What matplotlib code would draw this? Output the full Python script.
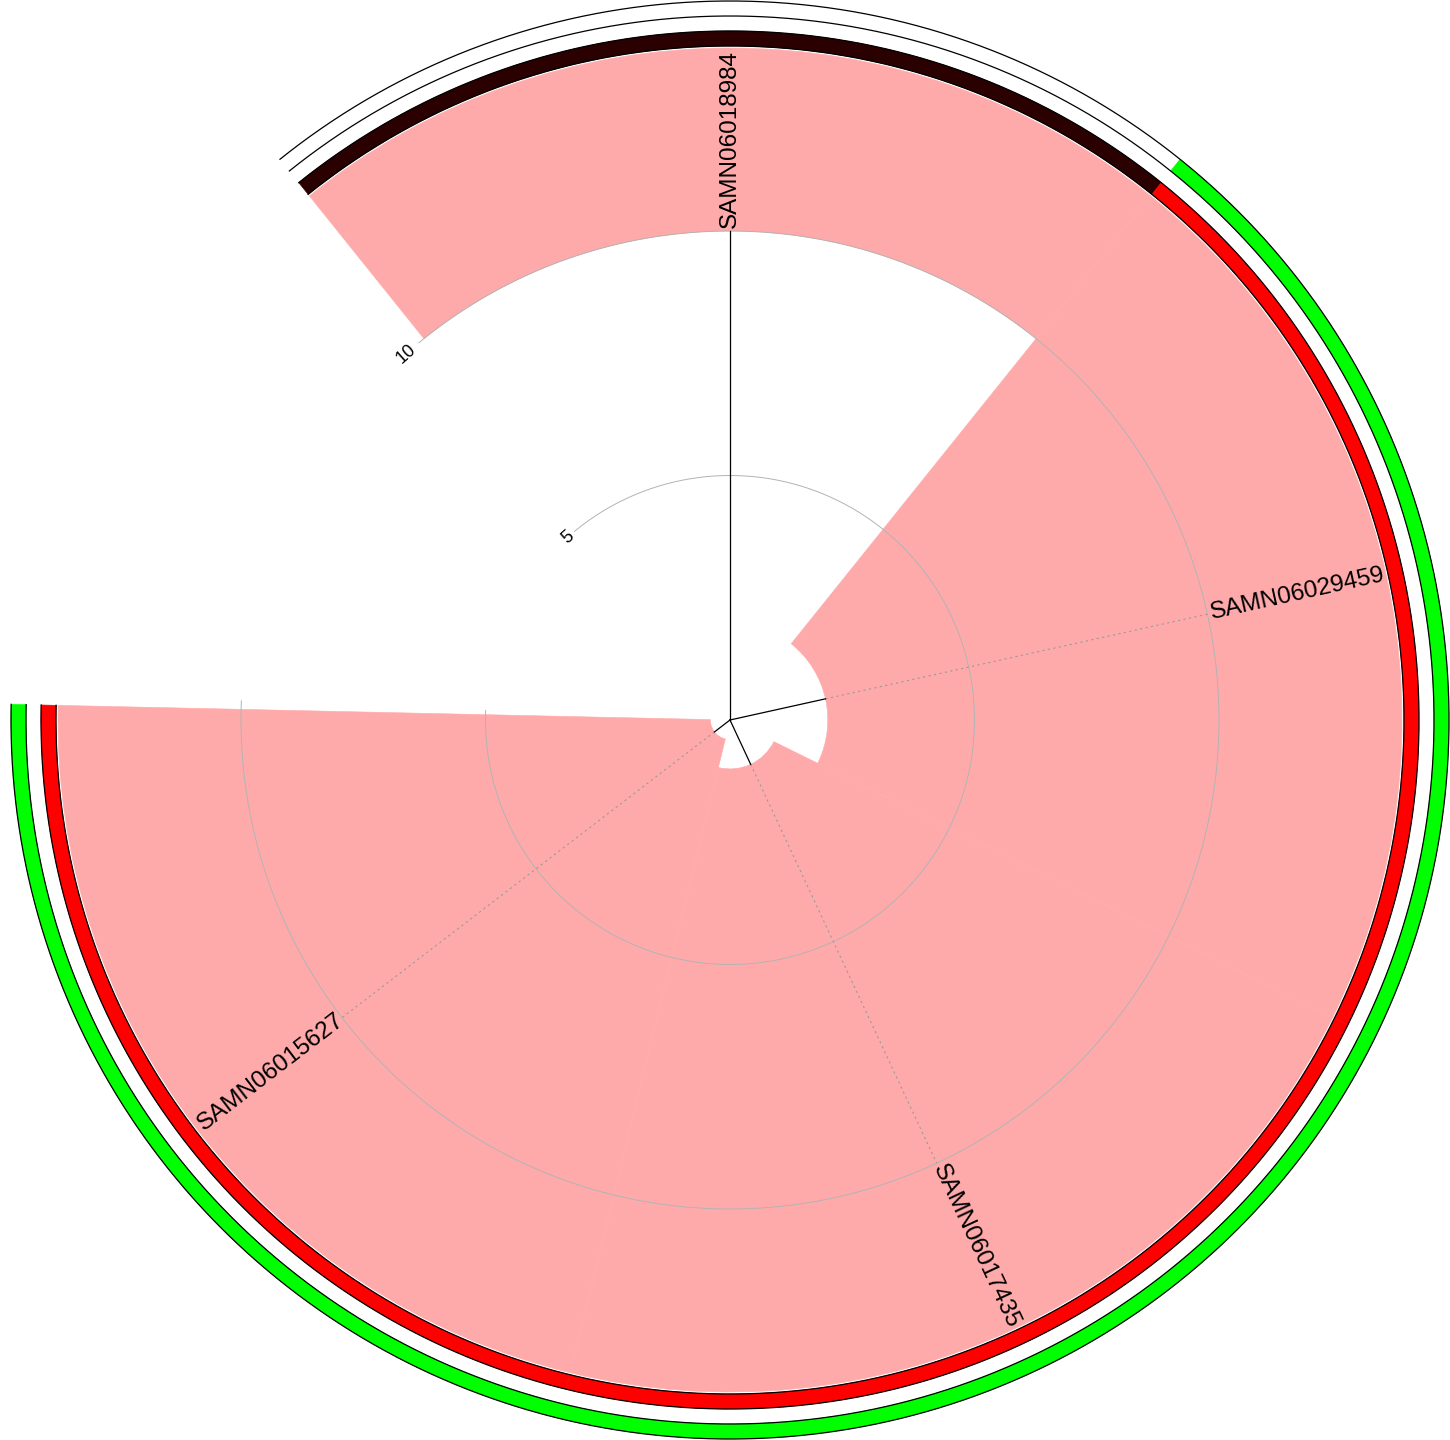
import numpy as np
import matplotlib.pyplot as plt

plt.rcParams['font.family'] = ['Liberation Sans', 'DejaVu Sans']

# -------------------------------
# tree data (star tree, 4 samples)
# -------------------------------
tips = ["SAMN06018984", "SAMN06029459", "SAMN06017435", "SAMN06015627"]
branch_len = [10.0, 2.0, 1.0, 0.4]

# annotation rings
ring_inner = ["dark", "red", "red", "red"]
ring_outer = ["none", "green", "green", "green"]
ring_colors = {"dark": "#2A0000", "red": "#FF0000", "green": "#00FF00", "none": "white"}

radial_ticks = [5, 10]

# -------------------------------
# layout
# -------------------------------
n = len(tips)
step = np.deg2rad(77.5)          # angle per tip (open angle ~50 deg)
theta = np.arange(n) * step
max_len = max(branch_len)

px_per_unit = 48.9
r_hilight = 672 / px_per_unit
r1 = (674 / px_per_unit, 689 / px_per_unit)
r2 = (704 / px_per_unit, 719 / px_per_unit)

fig = plt.figure(figsize=(14.5, 14.4), dpi=100)
ax = fig.add_axes([10 / 1450, 0, 1440 / 1450, 1], projection="polar")
ax.set_theta_zero_location("N")
ax.set_theta_direction(-1)
ax.set_ylim(0, 720 / px_per_unit)
ax.set_axis_off()

# highlight from each tip out to the rings
bl = np.array(branch_len)
ax.bar(theta, r_hilight - bl, width=step, bottom=bl, align="center",
       color="#FFAAAA", edgecolor="#FFAAAA", linewidth=0.4, zorder=1)

# grid circles + labels
th_grid = np.linspace(-np.deg2rad(39.5), (n - 0.5) * step + np.deg2rad(1), 500)
for r in radial_ticks:
    ax.plot(th_grid, np.full_like(th_grid, r), color="#B3B3B3", lw=0.7, zorder=2)
    ax.text(-np.deg2rad(41.5), r, str(r), rotation=41.5, ha="center",
            va="center", fontsize=13, color="black", zorder=5)

# heatmap rings
c1 = [ring_colors[v] for v in ring_inner]
c2 = [ring_colors[v] for v in ring_outer]
ax.bar(theta, r1[1] - r1[0], width=step, bottom=r1[0], color=c1,
       edgecolor=c1, linewidth=0.4, zorder=1)
ax.bar(theta, r2[1] - r2[0], width=step, bottom=r2[0], color=c2,
       edgecolor=c2, linewidth=0.4, zorder=1)
th_ring = np.linspace(-step / 2, (n - 0.5) * step, 600)
for r in (r1[0], r1[1], r2[0], r2[1]):
    ax.plot(th_ring, np.full_like(th_ring, r), color="black", lw=0.9,
            zorder=3, clip_on=False)

# branches, aligned dotted lines and tip labels
for t, L, name in zip(theta, branch_len, tips):
    ax.plot([t, t], [0, L], color="black", lw=0.9, zorder=4)
    if L < max_len:
        ax.plot([t, t], [L, max_len], color="#9A9A9A", lw=0.8,
                ls=(0, (2, 3)), zorder=3)
    ang = 90 - np.rad2deg(t)
    if ang < -90:
        ax.text(t, max_len, name, rotation=ang + 180, rotation_mode="anchor",
                ha="right", va="center", fontsize=17.5, zorder=5)
    else:
        ax.text(t, max_len + 0.06, name, rotation=ang, rotation_mode="anchor",
                ha="left", va="center", fontsize=17.5, zorder=5)

fig.savefig("out.png", dpi=100)
